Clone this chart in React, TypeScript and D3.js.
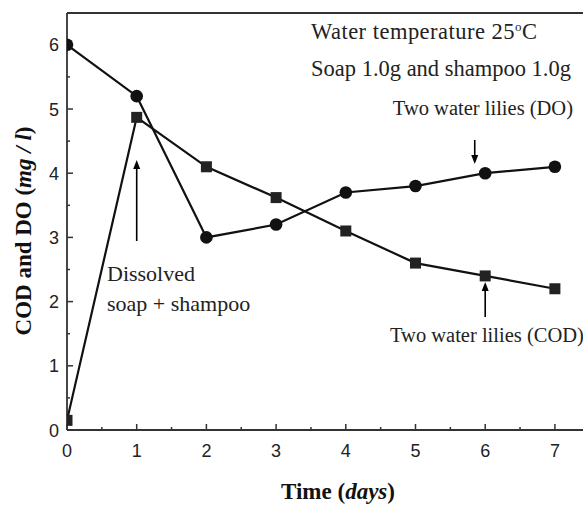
import React from "react";
import * as d3 from "d3";

const days = [0, 1, 2, 3, 4, 5, 6, 7];
const doValues = [6.0, 5.2, 3.0, 3.2, 3.7, 3.8, 4.0, 4.1];
const codValues = [0.15, 4.87, 4.1, 3.62, 3.1, 2.6, 2.4, 2.2];
const xTicks = [0, 1, 2, 3, 4, 5, 6, 7];
const yTicks = [0, 1, 2, 3, 4, 5, 6];

const W = 583;
const H = 505;
const left = 67;
const right = 583;
const top = 13;
const bottom = 430;

export default function App() {
  const x = d3.scaleLinear().domain([0, (right - left) / 69.7]).range([left, right]);
  const y = d3.scaleLinear().domain([0, (bottom - top) / 64.2]).range([bottom, top]);
  const line = d3
    .line<number>()
    .x((_, i) => x(days[i]))
    .y((d) => y(d));
  const xMinor = d3.range(0.5, 7.5, 1);
  const yMinor = d3.range(0.5, 6.5, 1);
  const serif = "'Liberation Serif', 'DejaVu Serif', serif";
  const sans = "'Liberation Sans', Arial, sans-serif";
  const ms = 11;

  const arrow = (x0: number, y0: number, y1: number) => {
    const dir = y1 > y0 ? 1 : -1;
    return (
      <g>
        <line x1={x0} y1={y0} x2={x0} y2={y1 - dir * 6} stroke="#000" strokeWidth={1.6} />
        <path
          d={`M${x0 - 3.5},${y1 - dir * 9} L${x0 + 3.5},${y1 - dir * 9} L${x0},${y1} Z`}
          fill="#000"
        />
      </g>
    );
  };

  return (
    <svg width={W} height={H} style={{ position: "absolute", left: 0, top: 0, background: "#fff" }}>
      <defs>
        <clipPath id="plot">
          <rect x={left} y={top} width={right - left} height={bottom - top} />
        </clipPath>
      </defs>
      <rect x={0} y={0} width={W} height={H} fill="#fff" />
      <line x1={left} y1={top} x2={right} y2={top} stroke="#333" strokeWidth={1.8} />
      <line x1={left} y1={top} x2={left} y2={bottom} stroke="#333" strokeWidth={1.8} />
      <line x1={left} y1={bottom} x2={right} y2={bottom} stroke="#333" strokeWidth={1.8} />
      {xTicks.map((t) => (
        <g key={"xt" + t}>
          <line x1={x(t)} x2={x(t)} y1={bottom} y2={bottom - 6} stroke="#333" strokeWidth={1.5} />
          <text x={x(t)} y={457} textAnchor="middle" fontFamily={sans} fontSize={18} fill="#222">
            {t}
          </text>
        </g>
      ))}
      {xMinor.map((t) => (
        <line key={"xm" + t} x1={x(t)} x2={x(t)} y1={bottom} y2={bottom - 3} stroke="#333" strokeWidth={1.5} />
      ))}
      {yTicks.map((t) => (
        <g key={"yt" + t}>
          <line x1={left} x2={left + 6} y1={y(t)} y2={y(t)} stroke="#333" strokeWidth={1.5} />
          <text x={59} y={y(t) + 6.5} textAnchor="end" fontFamily={sans} fontSize={18} fill="#222">
            {t}
          </text>
        </g>
      ))}
      {yMinor.map((t) => (
        <line key={"ym" + t} x1={left} x2={left + 3} y1={y(t)} y2={y(t)} stroke="#333" strokeWidth={1.5} />
      ))}
      <g clipPath="url(#plot)">
        <path d={line(doValues) || ""} fill="none" stroke="#111" strokeWidth={2.2} />
        <path d={line(codValues) || ""} fill="none" stroke="#111" strokeWidth={2.2} />
        {doValues.map((v, i) => (
          <circle key={"c" + i} cx={x(days[i])} cy={y(v)} r={6.3} fill="#111" />
        ))}
        {codValues.map((v, i) => (
          <rect
            key={"s" + i}
            x={x(days[i]) - ms / 2}
            y={y(v) - ms / 2}
            width={ms}
            height={ms}
            fill="#222"
          />
        ))}
      </g>
      <text x={311} y={39} fontFamily={serif} fontSize={22.5} fill="#222" textLength={226}>
        Water temperature 25
        <tspan dy={-8} fontSize={13}>o</tspan>
        <tspan dy={8}>C</tspan>
      </text>
      <text x={311} y={76} fontFamily={serif} fontSize={22.5} fill="#222">
        Soap 1.0g and shampoo 1.0g
      </text>
      <text x={573} y={115} textAnchor="end" fontFamily={serif} fontSize={20.5} fill="#222">
        Two water lilies (DO)
      </text>
      {arrow(x(5.85), 140, 164)}
      <text x={107} y={281} fontFamily={serif} fontSize={22} fill="#222">
        Dissolved
      </text>
      <text x={107} y={311} fontFamily={serif} fontSize={22} fill="#222">
        soap + shampoo
      </text>
      {arrow(x(1), 241, 160)}
      {arrow(x(6), 317, 282)}
      <text x={390} y={342} fontFamily={serif} fontSize={20.5} fill="#222">
        Two water lilies (COD)
      </text>
      <text
        transform={`translate(31,231) rotate(-90)`}
        textAnchor="middle"
        fontFamily={serif}
        fontSize={23}
        fontWeight="bold"
        fill="#111"
      >
        COD and DO (<tspan fontStyle="italic">mg / l</tspan>)
      </text>
      <text x={338} y={499} textAnchor="middle" fontFamily={serif} fontSize={23} fontWeight="bold" fill="#111">
        Time (<tspan fontStyle="italic">days</tspan>)
      </text>
    </svg>
  );
}
